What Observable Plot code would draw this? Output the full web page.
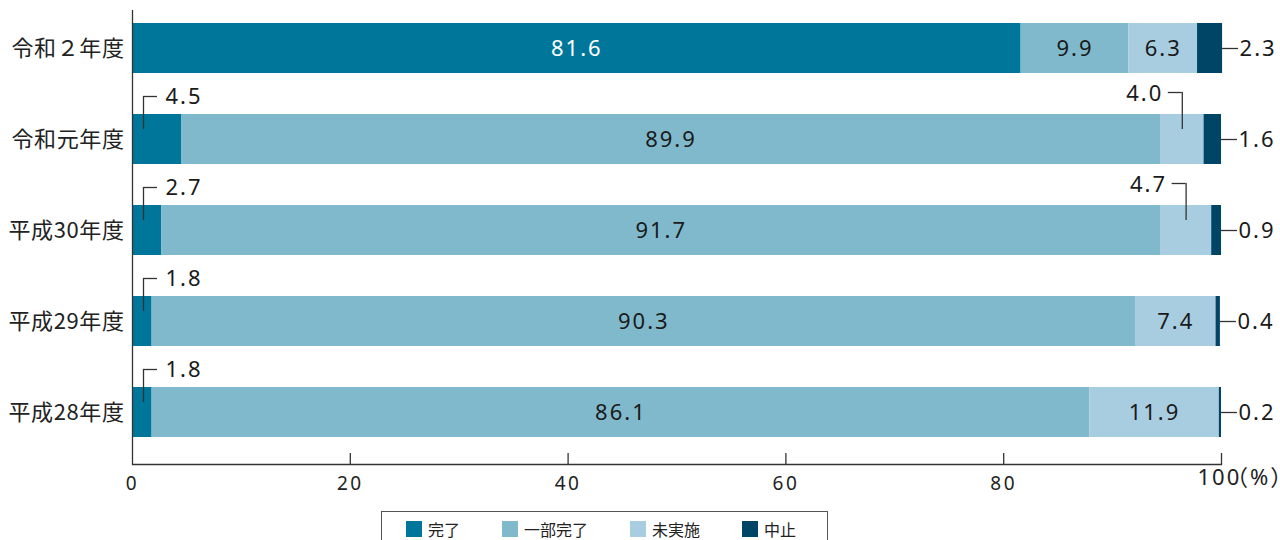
<!DOCTYPE html>
<html><head><meta charset="utf-8">
<script src="https://cdn.jsdelivr.net/npm/d3@7"></script>
<script src="https://cdn.jsdelivr.net/npm/@observablehq/plot@0.6"></script>
<style>
body{margin:0;background:#fff;font-family:"Noto Sans","Noto Sans CJK JP",sans-serif;}
#chart svg{display:block}
#chart svg text{letter-spacing:2px}
#chart g[aria-label^="y-axis"] text{font-size:22px;letter-spacing:0.6px;font-family:"Noto Sans CJK JP",sans-serif}
#chart g[aria-label^="x-axis"] text{font-size:19px;letter-spacing:2.5px}
#chart g[aria-label="last tick"] text{font-size:19px;letter-spacing:2.5px}
#chart g[aria-label="unit"] text{font-size:19px;letter-spacing:3.5px;font-family:"Noto Sans CJK JP",sans-serif}
.legend{box-sizing:border-box;margin:6px 0 0 381px;width:447px;height:40px;border:1px solid #555;padding:9px 0 0 24px;display:flex;align-items:flex-start;gap:42px;font-size:16px;color:#222;font-family:"Noto Sans CJK JP",sans-serif}
.legend .item{display:flex;align-items:center;gap:6px;height:16px;line-height:16px}
.legend .sw{width:16px;height:16px;display:inline-block}
</style></head>
<body><div id="chart"></div><div class="legend" id="legend"></div>
<script>
const years = ["令和２年度", "令和元年度", "平成30年度", "平成29年度", "平成28年度"];
const categories = ["完了", "一部完了", "未実施", "中止"];
const colors = ["#00779a", "#80b9cb", "#a8cde0", "#004466"];
const done = [81.6, 4.5, 2.7, 1.8, 1.8];
const partial = [9.9, 89.9, 91.7, 90.3, 86.1];
const notDone = [6.3, 4.0, 4.7, 7.4, 11.9];
const stopped = [2.3, 1.6, 0.9, 0.4, 0.2];
const xTicks = [0, 20, 40, 60, 80, 100];
const unitLabel = "（%）";

const series = [done, partial, notDone, stopped];
const rows = [];
years.forEach((year, i) => {
  let acc = 0;
  categories.forEach((cat, j) => {
    const value = series[j][i];
    rows.push({year, cat, value, x1: acc, x2: acc + value, mid: acc + value / 2});
    acc += value;
  });
});
const fmt = d => d.value.toFixed(1);
const inside = rows.filter(d => d.value >= 5);
const insideWhite = inside.filter(d => d.cat === categories[0]);
const insideDark = inside.filter(d => d.cat !== categories[0]);
const leftOut = rows.filter(d => d.cat === categories[0] && d.value < 5);
const rightOut = rows.filter(d => d.cat === categories[2] && d.value < 5);
const endOut = rows.filter(d => d.cat === categories[3]);
const line = {stroke: "#333", strokeWidth: 1.3};
const lastTick = xTicks[xTicks.length - 1];

const plot = Plot.plot({
  width: 1280, height: 505,
  marginLeft: 132, marginRight: 59, marginTop: 10, marginBottom: 41,
  style: {fontFamily: '"Noto Sans","Noto Sans CJK JP",sans-serif', fontSize: "22px", color: "#222", background: "#fff"},
  x: {domain: [0, 100], ticks: xTicks, tickFormat: d => d === lastTick ? "" : String(d), tickSize: 0, tickPadding: 12, label: null},
  y: {domain: years, paddingInner: 0.4536, paddingOuter: 0.2077, align: 0.324, tickSize: 0, tickPadding: 8, label: null},
  color: {domain: categories, range: colors},
  marks: [
    Plot.barX(rows, {x1: "x1", x2: "x2", y: "year", fill: "cat"}),
    Plot.text(insideWhite, {x: "mid", y: "year", text: fmt, fill: "#fff"}),
    Plot.text(insideDark, {x: "mid", y: "year", text: fmt, fill: "#1a1a1a"}),
    // left elbow labels (完了)
    Plot.tickX(leftOut, {x: "x1", y: "year", dx: 11, insetTop: -18, insetBottom: 35, ...line}),
    Plot.ruleY(leftOut, {y: "year", x1: "x1", x2: "x1", dx: 11, dy: -43, insetRight: -14, ...line}),
    Plot.text(leftOut, {x: "x1", y: "year", text: fmt, dx: 33, dy: -43, textAnchor: "start", fill: "#1a1a1a"}),
    // right elbow labels (未実施)
    Plot.tickX(rightOut, {x: "mid", y: "year", insetTop: -22, insetBottom: 35, ...line}),
    Plot.ruleY(rightOut, {y: "year", x1: "mid", x2: "mid", dy: -47, insetLeft: -14, ...line}),
    Plot.text(rightOut, {x: "mid", y: "year", text: fmt, dx: -19, dy: -46, textAnchor: "end", fill: "#1a1a1a"}),
    // end labels (中止)
    Plot.ruleY(endOut, {y: "year", x1: "x2", x2: "x2", insetRight: -16, ...line}),
    Plot.text(endOut, {x: "x2", y: "year", text: fmt, dx: 17, textAnchor: "start", fill: "#1a1a1a"}),
    // axes lines and ticks
    Plot.ruleX([0], {...line}),
    Plot.frame({anchor: "bottom", ...line}),
    Plot.ruleX(xTicks.slice(1), {insetTop: 443, ...line}),
    Plot.text([lastTick], {x: d => d, text: d => String(d), frameAnchor: "bottom", dx: -24, dy: 20, textAnchor: "start", fill: "#222", ariaLabel: "last tick"}),
    Plot.text([lastTick], {x: d => d, text: () => unitLabel, frameAnchor: "bottom", dx: 4.5, dy: 20, textAnchor: "start", fill: "#222", ariaLabel: "unit"})
  ]
});
document.getElementById("chart").appendChild(plot);

const legend = document.getElementById("legend");
categories.forEach((c, i) => {
  const item = document.createElement("span");
  item.className = "item";
  const sw = document.createElement("span");
  sw.className = "sw";
  sw.style.background = colors[i];
  const t = document.createElement("span");
  t.textContent = c;
  item.appendChild(sw); item.appendChild(t);
  legend.appendChild(item);
});
</script>
</body></html>
